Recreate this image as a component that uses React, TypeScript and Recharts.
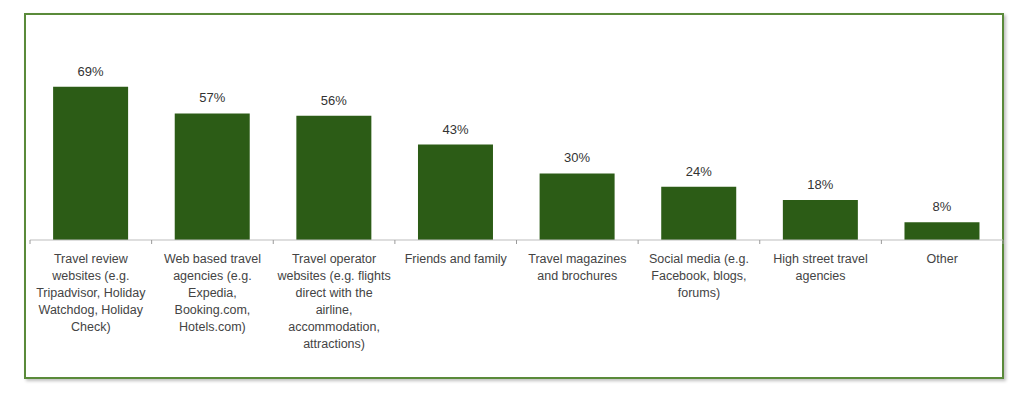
import React from "react";
import { BarChart, Bar, XAxis, YAxis, LabelList } from "recharts";

const categories: string[] = [
  "Travel review\nwebsites (e.g.\nTripadvisor, Holiday\nWatchdog, Holiday\nCheck)",
  "Web based travel\nagencies (e.g.\nExpedia,\nBooking.com,\nHotels.com)",
  "Travel operator\nwebsites (e.g. flights\ndirect with the\nairline,\naccommodation,\nattractions)",
  "Friends and family",
  "Travel magazines\nand brochures",
  "Social media (e.g.\nFacebook, blogs,\nforums)",
  "High street travel\nagencies",
  "Other",
];
const values: number[] = [69, 57, 56, 43, 30, 24, 18, 8];

const data = categories.map((c, i) => ({ name: c, value: values[i] }));

const W = 1023;
const H = 409;
const AXIS_H = 160;
const M = { top: 18, right: 20, bottom: 169 - AXIS_H, left: 30 };
const BAND = (W - M.left - M.right) / categories.length;
const FONT = "'Liberation Sans', Arial, sans-serif";

const Tick = (props: any) => {
  const { x, y, payload } = props;
  const lines = String(payload.value).split("\n");
  const left = x - BAND / 2;
  return (
    <g>
      <line x1={left} y1={y - 8} x2={left} y2={y - 4} stroke="#9a9a9a" strokeWidth={1} />
      {payload.index === categories.length - 1 && (
        <line x1={left + BAND} y1={y - 8} x2={left + BAND} y2={y - 4} stroke="#9a9a9a" strokeWidth={1} />
      )}
      <text x={x} y={y + 15} textAnchor="middle" fontFamily={FONT} fontSize={12.5} fill="#444">
        {lines.map((l, i) => (
          <tspan key={i} x={x} dy={i === 0 ? 0 : 17}>
            {l}
          </tspan>
        ))}
      </text>
    </g>
  );
};

export default function App() {
  return (
    <div style={{ position: "absolute", left: 0, top: 0, width: W, height: H, background: "#fff" }}>
      <div
        style={{
          position: "absolute",
          left: 24,
          top: 13,
          width: 976,
          height: 362,
          border: "2.5px solid #5a8a3a",
          boxShadow: "2px 2px 3px rgba(0,0,0,0.25)",
        }}
      />
      <div style={{ position: "absolute", left: 0, top: 0 }}>
        <BarChart width={W} height={H} data={data} margin={M} barCategoryGap="19%">
          <XAxis
            dataKey="name"
            interval={0}
            tick={<Tick />}
            tickLine={false}
            axisLine={{ stroke: "#bdbdbd", strokeWidth: 1 }}
            height={AXIS_H}
          />
          <YAxis hide domain={[0, 100]} />
          <Bar dataKey="value" fill="#2c5c16" isAnimationActive={false}>
            <LabelList
              dataKey="value"
              position="top"
              offset={11}
              formatter={(v: any) => `${v}%`}
              style={{ fontFamily: FONT, fontSize: 13, fill: "#333" }}
            />
          </Bar>
        </BarChart>
      </div>
    </div>
  );
}
